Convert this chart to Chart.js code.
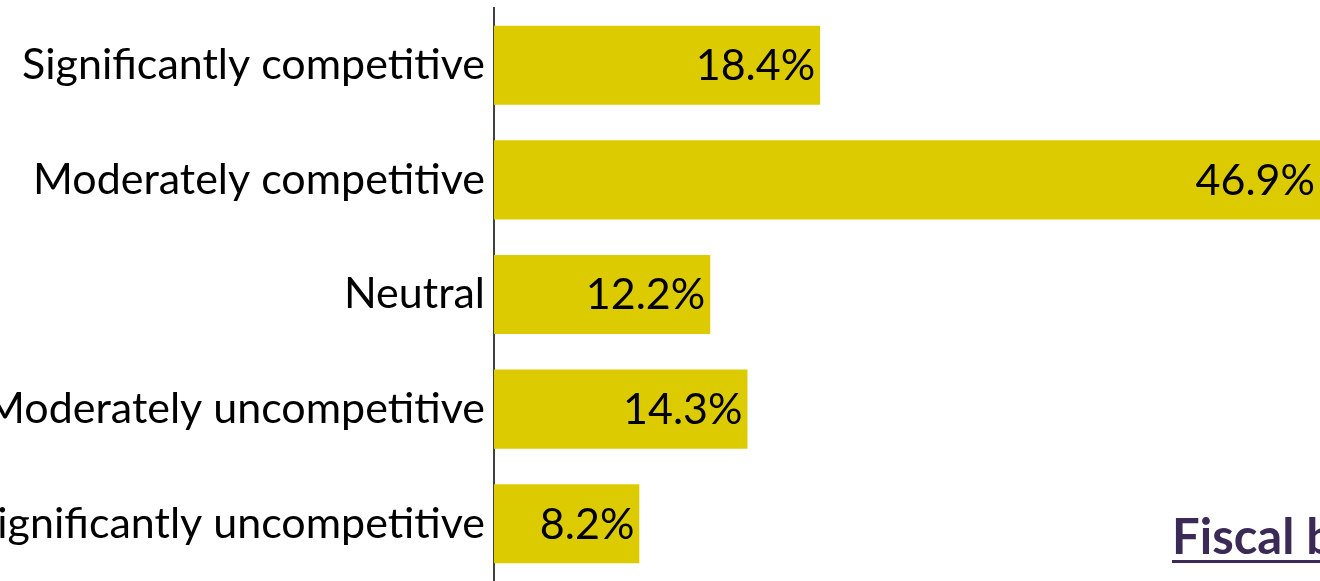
<!DOCTYPE html>
<html>
<head>
<meta charset="utf-8">
<script src="https://cdn.jsdelivr.net/npm/chart.js@4.4.1/dist/chart.umd.min.js"></script>
<style>
  html, body { margin: 0; padding: 0; background: #fff; overflow: hidden; }
  #wrap { position: relative; width: 1320px; height: 581px; }
</style>
</head>
<body>
<div id="wrap"><canvas id="grafik" width="1320" height="581"></canvas></div>
<script>
// data kategori dan nilai (persen)
const kategori = [
  "Significantly competitive",
  "Moderately competitive",
  "Neutral",
  "Moderately uncompetitive",
  "Significantly uncompetitive"
];
const nilai = [18.4, 46.9, 12.2, 14.3, 8.2];
const judulBawah = "Fiscal b";

const warnaBar = "#dccb00";
const fontUtama = "Lato, 'Open Sans', sans-serif";

// tulis label persen di ujung batang
const labelNilai = {
  id: "labelNilai",
  afterDatasetsDraw(chart) {
    const ctx = chart.ctx;
    const area = chart.chartArea;
    const meta = chart.getDatasetMeta(0);
    ctx.save();
    ctx.font = "43px " + fontUtama;
    ctx.fillStyle = "#000";
    ctx.textAlign = "right";
    ctx.textBaseline = "middle";
    meta.data.forEach((bar, i) => {
      let ujung = Math.min(bar.x, area.right);
      ctx.fillText(nilai[i].toFixed(1) + "%", ujung - 5, bar.y + 1);
    });
    ctx.restore();
  }
};

// teks judul terpotong di pojok kanan bawah
const teksPojok = {
  id: "teksPojok",
  afterDraw(chart) {
    const ctx = chart.ctx;
    ctx.save();
    ctx.font = "bold 49px " + fontUtama;
    ctx.fillStyle = "#3b2a55";
    ctx.textAlign = "left";
    ctx.textBaseline = "alphabetic";
    ctx.fillText(judulBawah, 1172, 554);
    let lebar = ctx.measureText(judulBawah).width;
    ctx.fillRect(1172, 560, lebar, 3);
    ctx.restore();
  }
};

new Chart(document.getElementById("grafik").getContext("2d"), {
  type: "bar",
  data: {
    labels: kategori,
    datasets: [{
      data: nilai,
      backgroundColor: warnaBar,
      borderWidth: 0,
      categoryPercentage: 1,
      barPercentage: 0.69
    }]
  },
  options: {
    indexAxis: "y",
    responsive: false,
    animation: false,
    devicePixelRatio: 1,
    layout: { padding: { top: 8, left: 0, right: 0, bottom: 0 } },
    plugins: { legend: { display: false }, tooltip: { enabled: false } },
    scales: {
      x: { display: false, min: 0, max: 46.6 },
      y: {
        grid: { display: false, drawTicks: false },
        border: { display: true, color: "#404040", width: 2 },
        ticks: { color: "#000", padding: 9, autoSkip: false, font: { family: fontUtama, size: 43 } },
        afterFit(scale) {
          scale.width = 494;
          scale.paddingTop = 0;
          scale.paddingBottom = 0;
        }
      }
    }
  },
  plugins: [labelNilai, teksPojok]
});
</script>
</body>
</html>
